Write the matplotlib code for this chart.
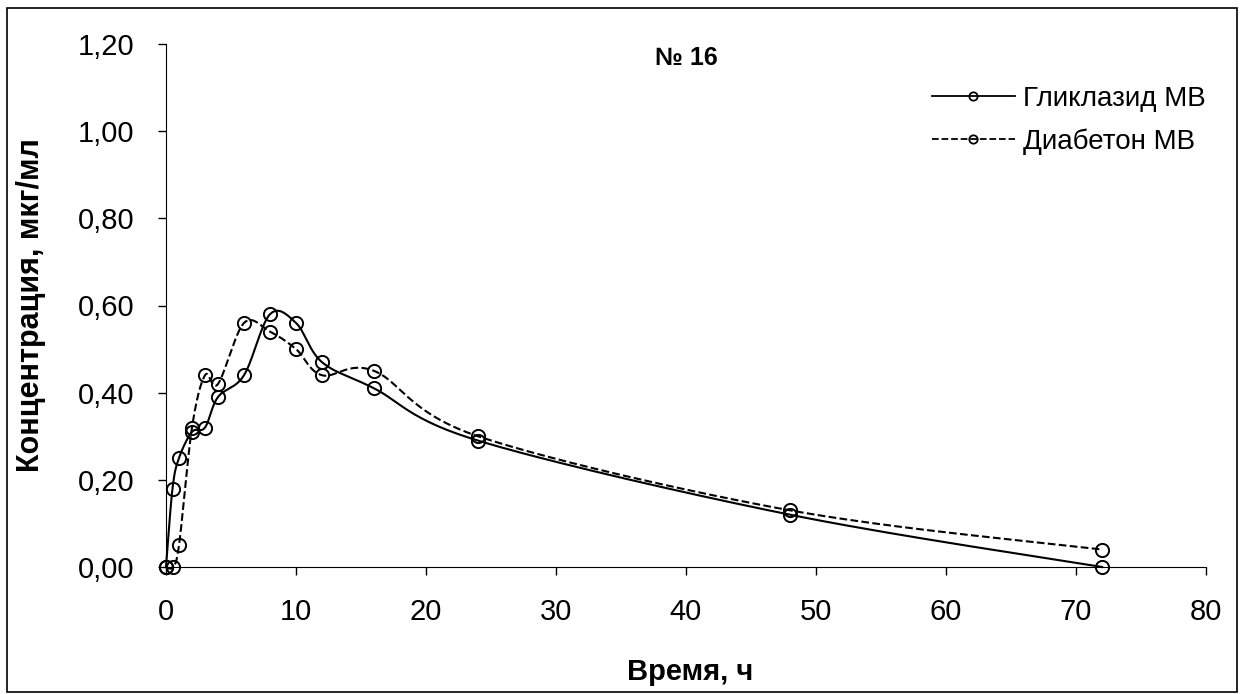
import numpy as np
import matplotlib.pyplot as plt
from matplotlib.patches import Rectangle

plt.rcParams['font.family'] = ['Liberation Sans', 'DejaVu Sans']

# время отбора проб, ч
time_h = [0, 0.5, 1, 2, 3, 4, 6, 8, 10, 12, 16, 24, 48, 72]
gliclazide = [0.00, 0.18, 0.25, 0.31, 0.32, 0.39, 0.44, 0.58, 0.56, 0.47, 0.41, 0.29, 0.12, 0.00]
diabeton = [0.00, 0.00, 0.05, 0.32, 0.44, 0.42, 0.56, 0.54, 0.50, 0.44, 0.45, 0.30, 0.13, 0.04]

x_ticks = [0, 10, 20, 30, 40, 50, 60, 70, 80]
y_ticks = [0.0, 0.2, 0.4, 0.6, 0.8, 1.0, 1.2]


def smooth(x, y, n=30, t=0.5):
    """Сглаженная линия как в Excel (кубические кривые Безье)"""
    x = np.asarray(x, float)
    y = np.asarray(y, float)
    xs, ys = [x[0]], [y[0]]
    for i in range(len(x) - 1):
        p0 = (x[i - 1], y[i - 1]) if i > 0 else (x[i], y[i])
        p1 = (x[i], y[i])
        p2 = (x[i + 1], y[i + 1])
        p3 = (x[i + 2], y[i + 2]) if i + 2 < len(x) else (x[i + 1], y[i + 1])
        c1 = (p1[0] + (p2[0] - p0[0]) * t / 3, p1[1] + (p2[1] - p0[1]) * t / 3)
        c2 = (p2[0] - (p3[0] - p1[0]) * t / 3, p2[1] - (p3[1] - p1[1]) * t / 3)
        s = np.linspace(0, 1, n)[1:]
        bx = (1 - s) ** 3 * p1[0] + 3 * (1 - s) ** 2 * s * c1[0] + 3 * (1 - s) * s ** 2 * c2[0] + s ** 3 * p2[0]
        by = (1 - s) ** 3 * p1[1] + 3 * (1 - s) ** 2 * s * c1[1] + 3 * (1 - s) * s ** 2 * c2[1] + s ** 3 * p2[1]
        xs.extend(bx)
        ys.extend(by)
    return np.array(xs), np.array(ys)


fig = plt.figure(figsize=(12.45, 6.94), dpi=100)
ax = fig.add_axes([166 / 1245, 1 - 567 / 694, 1040 / 1245, 523 / 694])

for vals, ls, name in [(gliclazide, '-', 'Гликлазид МВ'), (diabeton, '--', 'Диабетон МВ')]:
    sx, sy = smooth(time_h, vals)
    ax.plot(sx, sy, color='black', ls=ls, lw=1.5, clip_on=False)
    ax.plot(time_h, vals, ls='none', marker='o', ms=9.5, mfc='none', mec='black', mew=1.4, clip_on=False)
    ax.plot([], [], color='black', ls=ls, lw=1.3, marker='o', ms=6, mfc='none', mec='black', mew=1.3,
            label=name)

ax.set_xlim(0, 80)
ax.set_ylim(0, 1.2)
ax.set_xticks(x_ticks)
ax.set_yticks(y_ticks)
ax.set_yticklabels([f'{v:.2f}'.replace('.', ',') for v in y_ticks])
ax.tick_params(labelsize=21, direction='out', length=6, width=1)
ax.tick_params(axis='x', pad=16)
ax.tick_params(axis='y', pad=17)
for side in ['top', 'right']:
    ax.spines[side].set_visible(False)

ax.set_xlabel('Время, ч', fontsize=21, fontweight='bold')
ax.xaxis.set_label_coords(524 / 1040, -(658 - 567) / 523)
ax.set_ylabel('Концентрация, мкг/мл', fontsize=22, fontweight='bold')
ax.yaxis.set_label_coords(-(166 - 46) / 1040, 0.5)
ax.text(0.5, 0.974, '№ 16', transform=ax.transAxes, ha='center', va='center',
        fontsize=18, fontweight='bold')

ax.legend(loc='upper right', bbox_to_anchor=(1.0, 0.92), frameon=False, fontsize=20,
          borderpad=0, borderaxespad=0, handlelength=3.0, handletextpad=0.3, labelspacing=0.6)

fig.patches.append(Rectangle((7 / 1245, 2 / 694), 1230 / 1245, 684 / 694, transform=fig.transFigure,
                             fill=False, ec='black', lw=1.2))

fig.savefig('out.png', dpi=100)
